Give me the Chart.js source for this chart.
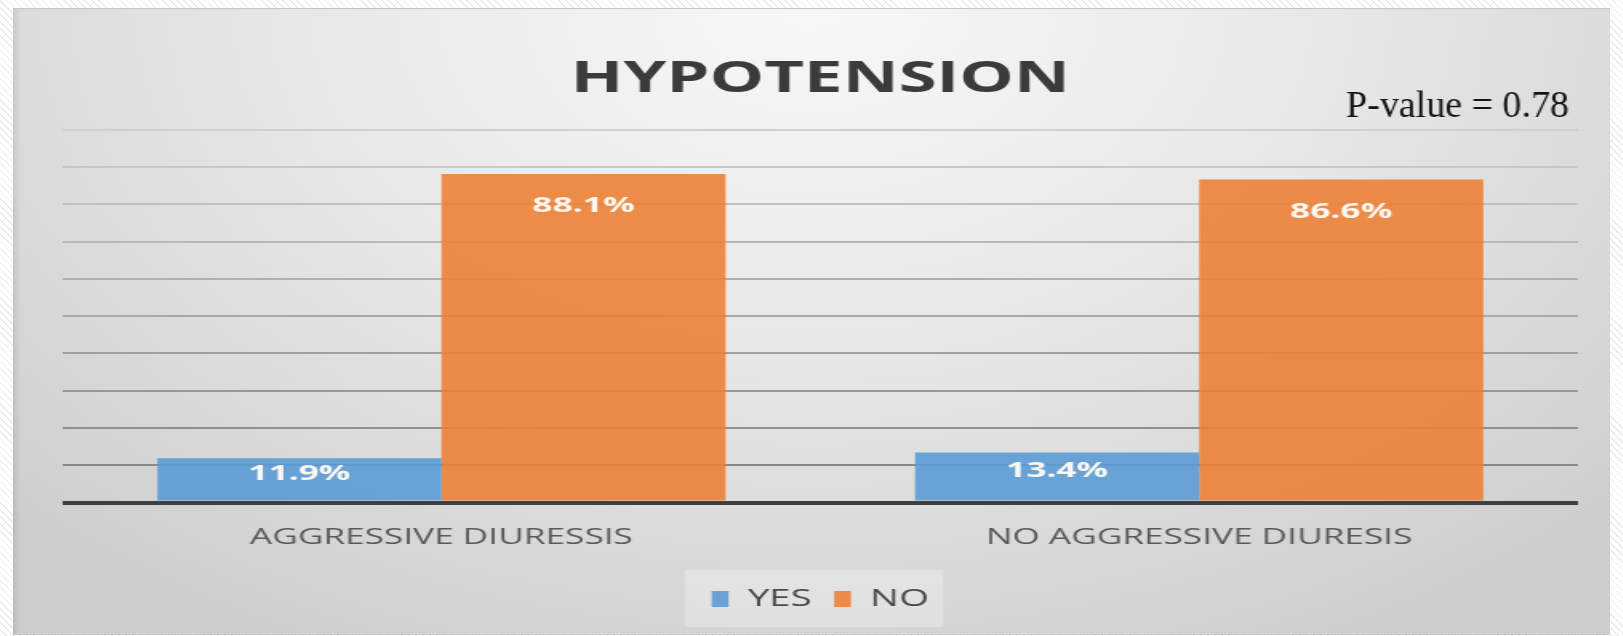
<!DOCTYPE html>
<html>
<head>
<meta charset="utf-8">
<script src="https://cdn.jsdelivr.net/npm/chart.js@4.4.1/dist/chart.umd.min.js"></script>
<style>
html, body { margin: 0; padding: 0; }
body {
  width: 1623px; height: 636px; overflow: hidden; position: relative;
  background: repeating-linear-gradient(45deg, #ffffff 0px, #ffffff 4px, #ebebeb 4px, #ebebeb 5px);
}
#panel {
  position: absolute; left: 13px; top: 9px; width: 1597px; height: 626px;
  background: radial-gradient(ellipse 70% 115% at 50% 0%, #f8f8f8 0%, #e6e6e6 50%, #cecece 100%);
  box-shadow: inset 7px 0 6px -4px rgba(0,0,0,0.10), 0 -1px 0 #c6c6c6;
}
/* the source picture is stretched sideways, so the chart is too */
#wrap {
  position: absolute; left: 0; top: 0; width: 998px; height: 626px;
  transform: scaleX(1.6002); transform-origin: 0 0;
}
</style>
</head>
<body>
<div id="panel">
  <div id="wrap"><canvas id="myChart"></canvas></div>
</div>
<script>
// data
const categories = ['AGGRESSIVE DIURESSIS', 'NO AGGRESSIVE DIURESIS'];
const seriesNames = ['YES', 'NO'];
const yesValues = [11.9, 13.4];
const noValues = [88.1, 86.6];
const yMax = 100;
const yStep = 10;
const chartTitle = 'HYPOTENSION';
const pValueText = 'P-value = 0.78';

const STRETCH = 1597 / 998;

// white % labels near the top of each bar
const barLabels = {
  id: 'barLabels',
  afterDatasetsDraw(chart) {
    const ctx = chart.ctx;
    ctx.save();
    ctx.font = 'bold 22px "Open Sans"';
    ctx.fillStyle = '#fbf8f2';
    ctx.textAlign = 'center';
    ctx.textBaseline = 'middle';
    chart.data.datasets.forEach(function(ds, i) {
      chart.getDatasetMeta(i).data.forEach(function(bar, j) {
        let h = bar.base - bar.y;
        let y = bar.y + Math.min(32, h * 0.37);
        ctx.fillText(ds.data[j].toFixed(1) + '%', bar.x, y);
      });
    });
    ctx.restore();
  }
};

// light box behind the legend + the p-value note
const extras = {
  id: 'extras',
  beforeDraw(chart) {
    const lg = chart.legend;
    if (!lg || !lg.legendHitBoxes || !lg.legendHitBoxes.length) return;
    let l = Infinity, r = -Infinity, cy = 0;
    lg.legendHitBoxes.forEach(function(b) {
      l = Math.min(l, b.left);
      r = Math.max(r, b.left + b.width);
      cy = b.top + b.height / 2;
    });
    const ctx = chart.ctx;
    ctx.save();
    ctx.fillStyle = 'rgba(255,255,255,0.28)';
    ctx.fillRect(l - 17, cy - 29, r - l + 26, 57);
    ctx.restore();
  },
  afterDraw(chart) {
    const ctx = chart.ctx;
    ctx.save();
    ctx.scale(1 / STRETCH, 1);
    ctx.font = '38px "Liberation Serif"';
    ctx.fillStyle = '#111111';
    ctx.textAlign = 'right';
    ctx.textBaseline = 'alphabetic';
    ctx.fillText(pValueText, 1556, 108);
    ctx.restore();
  }
};

new Chart('myChart', {
  type: 'bar',
  data: {
    labels: categories,
    datasets: [{
      label: seriesNames[0],
      data: yesValues,
      backgroundColor: 'rgba(91,155,213,0.9)'
    }, {
      label: seriesNames[1],
      data: noValues,
      backgroundColor: 'rgba(237,125,49,0.88)'
    }]
  },
  options: {
    responsive: true,
    maintainAspectRatio: false,
    animation: false,
    layout: { padding: { left: 31, right: 20, top: 0, bottom: 14 } },
    datasets: { bar: { categoryPercentage: 0.75, barPercentage: 1.0 } },
    scales: {
      x: {
        grid: { display: false, drawTicks: false },
        border: { display: false },
        ticks: { color: '#595959', font: { family: 'Open Sans', size: 22 }, padding: 22 }
      },
      y: {
        min: 0,
        max: yMax,
        ticks: { display: false, stepSize: yStep },
        border: { display: false },
        grid: {
          drawTicks: false,
          color: function(c) {
            if (!c.tick) return '#cccccc';
            if (c.tick.value === 0) return '#3f3f3f';
            let g = Math.round(128 + c.tick.value * 0.8);
            return 'rgb(' + g + ',' + g + ',' + g + ')';
          },
          lineWidth: function(c) { return c.tick && c.tick.value === 0 ? 4 : 2; }
        }
      }
    },
    plugins: {
      title: {
        display: true,
        text: chartTitle,
        fullSize: false,
        color: '#3b3b3b',
        font: { family: 'Open Sans', size: 43, weight: 'bold' },
        padding: { top: 45, bottom: 24 }
      },
      legend: {
        position: 'bottom',
        fullSize: false,
        labels: {
          color: '#4a4a4a',
          font: { family: 'Open Sans', size: 24 },
          boxWidth: 10.5,
          boxHeight: 16,
          padding: 14
        }
      },
      tooltip: { enabled: false }
    }
  },
  plugins: [barLabels, extras]
});
</script>
</body>
</html>
